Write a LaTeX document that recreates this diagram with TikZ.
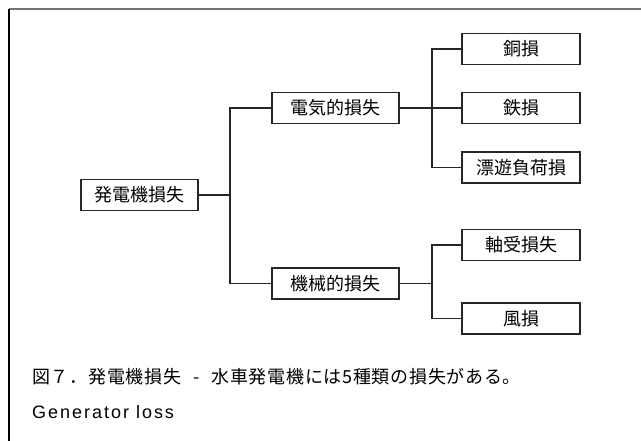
\documentclass[tikz,border=0pt]{standalone}
\usepackage{fontspec}
\newfontfamily\jp{Noto Sans CJK JP}
\newfontfamily\jpcap{Noto Sans CJK JP}[LetterSpace=4]
\newfontfamily\lat{Liberation Sans}[LetterSpace=11]
\begin{document}
\begin{tikzpicture}[x=1pt,y=-1pt,
  box/.style={draw=black!85,line width=1.3pt,fill=white,minimum height=31pt,inner sep=0pt,font=\jp\fontsize{18}{20}\selectfont},
  conn/.style={draw=black!85,line width=1.3pt}]
\useasboundingbox (0,0) rectangle (641,441);
\fill[white] (0,0) rectangle (641,441);
\draw[black!55,line width=1.5pt] (8.5,9) -- (641,9);
\draw[black,line width=1.2pt] (9,9) -- (9,441);

\node[box,minimum width=117pt] (root) at (139.5,195) {発電機損失};
\node[box,minimum width=127pt] (elec) at (335.5,108) {電気的損失};
\node[box,minimum width=127pt] (mech) at (335.5,283.5) {機械的損失};
\node[box,minimum width=118pt] (cu) at (521,49) {銅損};
\node[box,minimum width=118pt] (fe) at (521,108) {鉄損};
\node[box,minimum width=118pt] (st) at (521,167.5) {漂遊負荷損};
\node[box,minimum width=118pt] (br) at (521,245) {軸受損失};
\node[box,minimum width=118pt] (wd) at (521,318.5) {風損};

\coordinate (t) at (230,195);
\coordinate (e) at (432,108);
\coordinate (m) at (432,283.5);

\draw[conn] (root.east) -- (t);
\draw[conn] (elec.west) -| (t) |- (mech.west);
\draw[conn] (elec.east) -- (fe.west);
\draw[conn] (cu.west) -| (e) |- (st.west);
\draw[conn] (mech.east) -- (m);
\draw[conn] (br.west) -| (m) |- (wd.west);

\node[anchor=west,inner sep=0pt,font=\jpcap\fontsize{18}{20}\selectfont] (cap) at (32,377) {図７．発電機損失\hspace{12pt}-\hspace{12pt}水車発電機には5種類の損失がある。};
\node[anchor=west,inner sep=0pt,font=\lat\fontsize{18}{20}\selectfont] (en) at (32,412) {Generator loss};
\end{tikzpicture}
\end{document}
